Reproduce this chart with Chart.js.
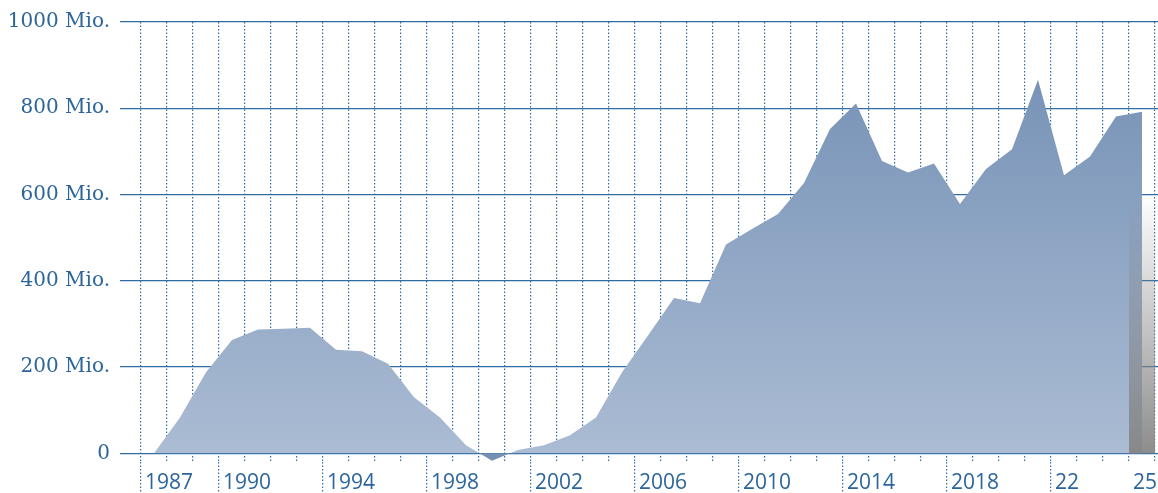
<!DOCTYPE html>
<html>
<head>
<meta charset="utf-8">
<script src="https://cdn.jsdelivr.net/npm/chart.js@4"></script>
<style>
  html, body { margin: 0; padding: 0; background: #fff; }
  #wrap { width: 1158px; height: 493px; }
</style>
</head>
<body>
<div id="wrap"><canvas id="myChart"></canvas></div>
<script>
// yearly values, in Mio.
var years = [1987, 1988, 1989, 1990, 1991, 1992, 1993, 1994, 1995, 1996,
             1997, 1998, 1999, 2000, 2001, 2002, 2003, 2004, 2005, 2006,
             2007, 2008, 2009, 2010, 2011, 2012, 2013, 2014, 2015, 2016,
             2017, 2018, 2019, 2020, 2021, 2022, 2023, 2024, 2025];
var values = [0, 83, 188, 263, 287, 289, 291, 240, 237, 208,
              130, 83, 19, -17, 8, 19, 42, 83, 188, 273,
              360, 348, 484, 520, 555, 627, 752, 811, 678, 651,
              672, 578, 659, 705, 866, 645, 688, 781, 792];
var yTicks = [0, 200, 400, 600, 800, 1000];
var labelYears = [1987, 1990, 1994, 1998, 2002, 2006, 2010, 2014, 2018, 2022, 2025];
var labelTexts = ['1987', '1990', '1994', '1998', '2002', '2006', '2010', '2014', '2018', '22', '25'];
var separatorYears = [1987, 1990, 1994, 1998, 2002, 2006, 2010, 2014, 2018, 2022];
var forecastYears = [2025];

var blue = '#2b659b';
var gridBlue = '#2f6ca3';

function areaFill(context) {
  var chart = context.chart;
  var a = chart.chartArea;
  if (!a) return null;
  var g = chart.ctx.createLinearGradient(0, a.top, 0, a.bottom);
  g.addColorStop(0, 'rgb(112,141,179)');
  g.addColorStop(1, 'rgb(172,189,212)');
  return g;
}

var forecastShade = {
  id: 'forecastShade',
  afterDatasetsDraw: function(chart) {
    var xs = chart.scales.x, ys = chart.scales.y, ctx = chart.ctx;
    forecastYears.forEach(function(yr) {
      var l = xs.getPixelForValue(yr - 0.5);
      var r = xs.getPixelForValue(yr + 0.5);
      var top = ys.getPixelForValue(1000);
      var bot = ys.getPixelForValue(0);
      var g = ctx.createLinearGradient(0, top, 0, bot);
      g.addColorStop(0, 'rgba(132,132,132,0)');
      g.addColorStop(0.4, 'rgba(132,132,132,0)');
      g.addColorStop(1, 'rgba(132,132,132,0.93)');
      ctx.save();
      ctx.fillStyle = g;
      ctx.fillRect(l, top, r - l, bot - top);
      ctx.restore();
    });
  }
};

var ctx = document.getElementById('myChart');
var myChart = new Chart(ctx, {
  type: 'line',
  data: {
    datasets: [{
      data: years.map(function(y, i) { return {x: y, y: values[i]}; }),
      borderWidth: 0,
      pointRadius: 0,
      tension: 0,
      fill: {target: 'origin', above: areaFill, below: 'rgb(118,144,180)'},
      backgroundColor: areaFill
    }]
  },
  plugins: [forecastShade],
  options: {
    responsive: true,
    maintainAspectRatio: false,
    animation: false,
    layout: { padding: { top: 21, left: 0, right: 0, bottom: 0 } },
    plugins: {
      legend: { display: false },
      tooltip: { enabled: false }
    },
    scales: {
      x: {
        type: 'linear',
        z: 1,
        min: 1986.5 - 21 / 26,
        max: 2025.5 + 3 / 26,
        afterBuildTicks: function(scale) {
          var t = years.map(function(y) { return {value: y - 0.5}; });
          t.push({value: years[years.length - 1] + 0.5});
          scale.ticks = t;
        },
        afterFit: function(scale) { scale.height = 31; },
        border: { display: false, dash: [1.5, 2] },
        grid: {
          color: gridBlue,
          lineWidth: 1.2,
          drawTicks: true,
          tickLength: 32,
          tickWidth: 1.2,
          tickBorderDash: [1.5, 2],
          tickColor: function(c) {
            if (!c.tick) return 'transparent';
            return separatorYears.indexOf(c.tick.value + 0.5) >= 0 ? gridBlue : 'transparent';
          }
        },
        ticks: {
          autoSkip: false,
          maxRotation: 0,
          minRotation: 0,
          align: 'start',
          labelOffset: 4,
          padding: -24,
          color: blue,
          font: { family: 'Open Sans', size: 21 },
          callback: function(v) {
            var i = labelYears.indexOf(v + 0.5);
            return i >= 0 ? labelTexts[i] : '';
          }
        }
      },
      y: {
        z: 1,
        min: -20,
        max: 1000,
        afterBuildTicks: function(scale) {
          scale.ticks = yTicks.map(function(v) { return {value: v}; });
        },
        afterFit: function(scale) { scale.width = 120; },
        border: { display: false },
        grid: {
          color: gridBlue,
          lineWidth: 1.3,
          drawTicks: false
        },
        ticks: {
          padding: 10,
          color: blue,
          font: { family: 'DejaVu Serif', size: 20 },
          callback: function(v) { return v === 0 ? '0' : v + ' Mio.'; }
        }
      }
    }
  }
});
</script>
</body>
</html>
